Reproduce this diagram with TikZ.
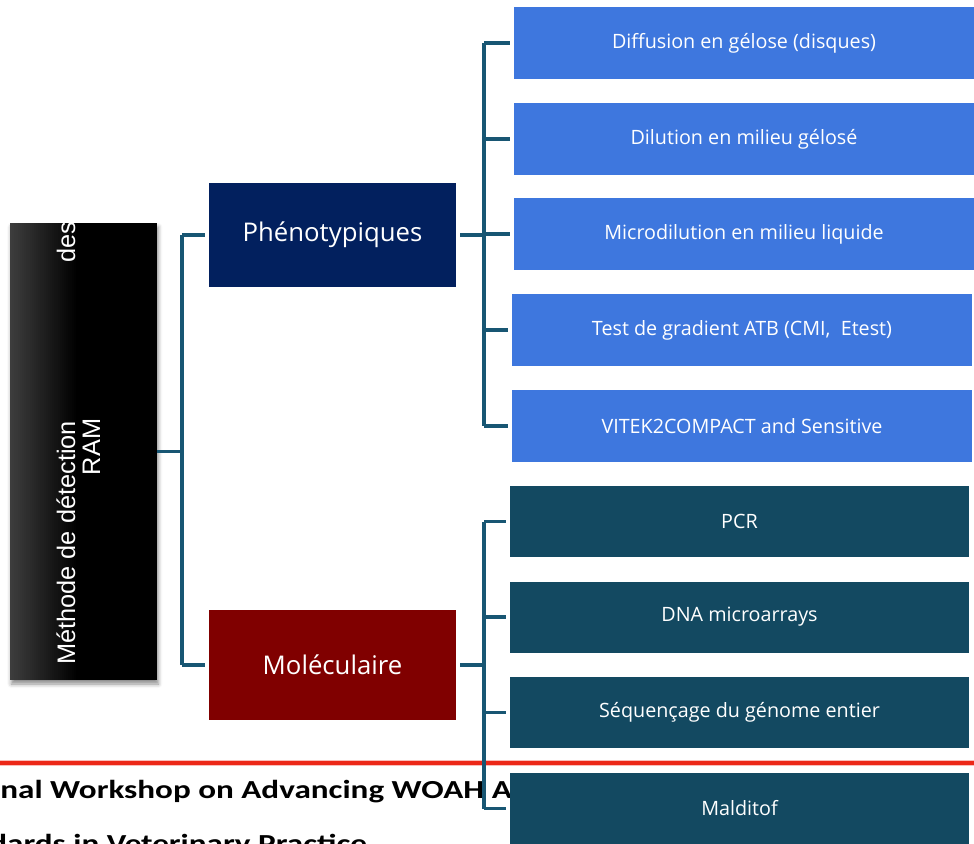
\documentclass[tikz,border=0pt]{standalone}
\usepackage{fontspec}
\setmainfont{Open Sans}
\newfontfamily\arialfont{Liberation Sans}
\newfontfamily\calfont{Carlito}
\usetikzlibrary{calc,shadows.blur}

\definecolor{navybox}{RGB}{2,32,94}
\definecolor{maroonbox}{RGB}{128,0,0}
\definecolor{bluebox}{RGB}{62,119,222}
\definecolor{tealbox}{RGB}{19,73,97}
\definecolor{connline}{RGB}{24,86,115}
\definecolor{rule}{RGB}{236,40,24}

\tikzset{
  conn/.style={draw=connline, line width=2.5pt},
  catbox/.style={inner sep=0pt, text=white, minimum width=185.25pt,
    font=\fontsize{19.3}{22}\selectfont},
  leafbox/.style={inner sep=0pt, text=white, minimum height=54pt,
    font=\fontsize{14.8}{17}\selectfont},
  blueleaf/.style={leafbox, fill=bluebox, minimum width=345pt},
  tealleaf/.style={leafbox, fill=tealbox, minimum width=344.25pt, minimum height=53.25pt},
  sidetext/.style={inner sep=0pt, text=white, rotate=90,
    font=\arialfont\fontsize{19}{22}\selectfont},
  footer/.style={inner sep=0pt, text=black, xscale=1.275, transform shape,
    font=\calfont\bfseries\fontsize{19.5}{23}\selectfont}
}

\begin{document}
\begin{tikzpicture}[x=0.75pt,y=-0.75pt]
\useasboundingbox (0,0) rectangle (974,843);

% footer of the slide: red rule and title text
\draw[rule!30, line width=5pt] (0,763) -- (974,763);
\draw[rule, line width=2.6pt] (0,763) -- (974,763);
\node[footer, anchor=base west] (title1) at (0,798) {nal Workshop on Advancing WOAH A};
\node[footer, anchor=base west] (title2) at (-11,852) {dards in Veterinary Practice};

% root box, black with a soft shadow
\node[minimum width=110.25pt, minimum height=342.75pt, inner sep=0pt, fill=black,
  blur shadow={shadow xshift=1pt, shadow yshift=-3pt, shadow blur radius=3pt, shadow opacity=45}]
  (main) at (83.5,451.5) {};
% dark grey gradient on its left side, built from thin strips
\foreach \i in {0,...,33}{
  \pgfmathsetmacro{\shadeval}{76+24*\i/33}
  \fill[black!\shadeval] ($(main.north west)+(2*\i,0)$) rectangle ($(main.south west)+(2*\i+2.2,0)$);
}
\node[sidetext, anchor=base west] (t1) at (75,665) {Méthode de détection};
\node[sidetext, anchor=base west] (t2) at (75,263) {des};
\node[sidetext, anchor=base] (t3) at (100,447) {RAM};

% category boxes
\node[catbox, fill=navybox, minimum height=78pt] (phen) at (332.5,235) {Phénotypiques};
\node[catbox, fill=maroonbox, minimum height=82.5pt] (mol) at (332.5,665) {Moléculaire};

% phenotypic methods
\node[blueleaf] (d1) at (744,43) {Diffusion en gélose (disques)};
\node[blueleaf] (d2) at (744,139) {Dilution en milieu gélosé};
\node[blueleaf] (d3) at (744,234) {Microdilution en milieu liquide};
\node[blueleaf] (d4) at (742,330) {Test de gradient ATB (CMI,\ \ Etest)};
\node[blueleaf] (d5) at (742,426) {VITEK2COMPACT and Sensitive};

% molecular methods
\node[tealleaf] (m1) at (739.5,521.5) {PCR};
\node[tealleaf] (m2) at (739.5,617) {DNA microarrays};
\node[tealleaf] (m3) at (739.5,712.5) {Séquençage du génome entier};
\node[tealleaf] (m4) at (739.5,808.5) {Malditof};

% spines of the three brackets
\coordinate (s0) at (182,0);
\coordinate (s1) at (484,0);
\coordinate (s2) at (484,0);

% root bracket
\draw[conn] (main.east) -- (s0 |- main.east);
\draw[conn] (s0 |- phen.west) -- (s0 |- mol.west);
\draw[conn] (s0 |- phen.west) -- ([xshift=-3pt]phen.west);
\draw[conn] (s0 |- mol.west) -- ([xshift=-3pt]mol.west);

% phenotypic bracket
\draw[conn] ([xshift=3pt]phen.east) -- (s1 |- phen.east);
\draw[conn] (s1 |- d1.west) -- (s1 |- d5.west);
\foreach \n in {d1,d2,d3,d4,d5}
  \draw[conn] (s1 |- \n.west) -- ([xshift=-3pt]\n.west);

% molecular bracket
\draw[conn] ([xshift=3pt]mol.east) -- (s2 |- mol.east);
\draw[conn] (s2 |- m1.west) -- (s2 |- m4.west);
\foreach \n in {m1,m2,m3,m4}
  \draw[conn] (s2 |- \n.west) -- ([xshift=-3pt]\n.west);
\end{tikzpicture}
\end{document}
